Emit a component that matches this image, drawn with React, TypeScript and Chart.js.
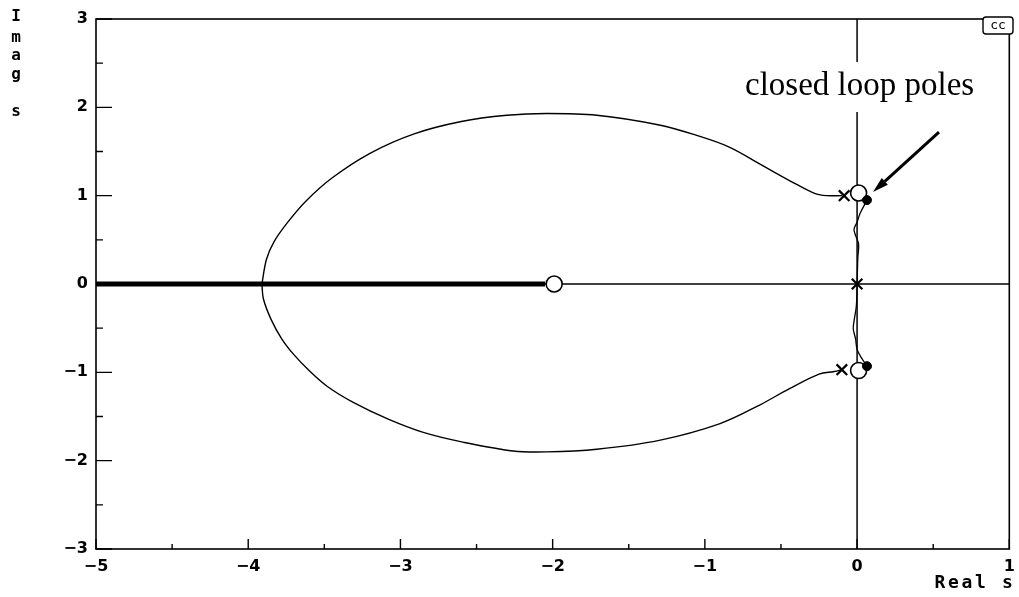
import React, { useEffect, useRef } from "react";
import { Chart, registerables } from "chart.js";

Chart.register(...registerables);

type Pt = [number, number];

// Root locus branches (real part, imaginary part)
const upperBranch: Pt[] = [
  [-0.1, 1.0], [-0.2, 1.0], [-0.27, 1.02], [-0.4, 1.13], [-0.62, 1.34],
  [-0.84, 1.55], [-1.05, 1.68], [-1.3, 1.8], [-1.71, 1.91], [-2.04, 1.93],
  [-2.3, 1.91], [-2.6, 1.84], [-2.91, 1.7], [-3.2, 1.48], [-3.45, 1.2],
  [-3.62, 0.94], [-3.74, 0.7], [-3.83, 0.48], [-3.88, 0.28], [-3.91, 0.0],
];
const lowerBranch: Pt[] = [
  [-0.1, -0.97], [-0.15, -0.99], [-0.25, -1.02], [-0.45, -1.19], [-0.64, -1.37],
  [-0.9, -1.58], [-1.3, -1.77], [-1.71, -1.87], [-2.04, -1.9], [-2.26, -1.89],
  [-2.59, -1.79], [-2.85, -1.68], [-3.08, -1.53], [-3.31, -1.34], [-3.48, -1.16],
  [-3.6, -0.98], [-3.7, -0.8], [-3.78, -0.62], [-3.85, -0.4], [-3.9, -0.17],
  [-3.91, 0.0],
];
const upperAxisBranch: Pt[] = [
  [0, 0], [0.005, 0.3], [0.01, 0.45], [-0.01, 0.55], [-0.02, 0.62],
  [0.0, 0.7], [0.02, 0.8], [0.065, 0.95],
];
const lowerAxisBranch: Pt[] = [
  [0, 0], [-0.005, -0.25], [-0.02, -0.42], [-0.025, -0.51], [-0.01, -0.62],
  [0.0, -0.74], [0.03, -0.84], [0.065, -0.93],
];
const realAxisLocus: Pt[] = [[-5, 0], [-2.05, 0]];
const imagAxisLine: Pt[] = [[0, -3], [0, 3]];
const realAxisLine: Pt[] = [[-5, 0], [1, 0]];

const openLoopPoles: Pt[] = [[-0.085, 1.0], [-0.1, -0.97], [0, 0]];
const openLoopZeros: Pt[] = [[0.01, 1.03], [0.01, -0.98], [-1.99, 0]];
const closedLoopPoles: Pt[] = [[0.065, 0.95], [0.065, -0.93]];

const xTickValues = [-5, -4, -3, -2, -1, 0, 1];
const yTickValues = [-3, -2, -1, 0, 1, 2, 3];
const xMinorValues = [-4.5, -3.5, -2.5, -1.5, -0.5, 0.5];
const yMinorValues = [-2.5, -1.5, -0.5, 0.5, 1.5, 2.5];

const toXY = (pts: Pt[]) => pts.map(([x, y]) => ({ x, y }));
const fmt = (v: number) => (v < 0 ? "\u2212" + Math.abs(v) : String(v));

const lineSet = (pts: Pt[], width: number) => ({
  data: toXY(pts),
  showLine: true,
  borderColor: "#000",
  borderWidth: width,
  pointRadius: 0,
  tension: 0.35,
  fill: false,
});

const framePlugin = {
  id: "frameAndTicks",
  beforeDatasetsDraw(chart: any) {
    const { ctx, chartArea: a, scales } = chart;
    ctx.save();
    ctx.strokeStyle = "#000";
    ctx.lineWidth = 1.6;
    ctx.strokeRect(a.left, a.top, a.right - a.left, a.bottom - a.top);
    ctx.lineWidth = 1.4;
    ctx.beginPath();
    yTickValues.forEach((v) => {
      const py = scales.y.getPixelForValue(v);
      ctx.moveTo(a.left, py);
      ctx.lineTo(a.left + 16, py);
    });
    yMinorValues.forEach((v) => {
      const py = scales.y.getPixelForValue(v);
      ctx.moveTo(a.left, py);
      ctx.lineTo(a.left + 7, py);
    });
    xTickValues.forEach((v) => {
      const px = scales.x.getPixelForValue(v);
      ctx.moveTo(px, a.bottom);
      ctx.lineTo(px, a.bottom - 10);
    });
    xMinorValues.forEach((v) => {
      const px = scales.x.getPixelForValue(v);
      ctx.moveTo(px, a.bottom);
      ctx.lineTo(px, a.bottom - 5);
    });
    ctx.stroke();
    ctx.restore();
  },
  afterDraw(chart: any) {
    const { ctx, scales } = chart;
    ctx.save();
    ctx.fillStyle = "#000";

    // vertical axis title, one letter per line
    ctx.font = 'bold 16px "DejaVu Sans Mono"';
    ctx.textAlign = "center";
    ctx.textBaseline = "middle";
    const letters: [string, number][] = [["I", 17], ["m", 38], ["a", 56], ["g", 75], ["s", 112]];
    letters.forEach(([c, y]) => ctx.fillText(c, 16, y));

    // horizontal axis title
    ctx.font = 'bold 18px "DejaVu Sans Mono"';
    ctx.textBaseline = "alphabetic";
    const title = "Real s";
    for (let i = 0; i < title.length; i++) {
      ctx.fillText(title[i], 940 + i * 13.5, 588);
    }

    // corner badge
    ctx.beginPath();
    (ctx as any).roundRect(983, 17, 30, 17, 3);
    ctx.fillStyle = "#fff";
    ctx.fill();
    ctx.strokeStyle = "#000";
    ctx.lineWidth = 1.4;
    ctx.stroke();
    ctx.fillStyle = "#000";
    ctx.font = '13px "DejaVu Sans Mono"';
    ctx.textBaseline = "middle";
    ctx.fillText("cc", 998, 26);

    // annotation
    ctx.fillStyle = "#fff";
    ctx.fillRect(740, 62, 240, 50);
    ctx.fillStyle = "#000";
    ctx.font = '33px "Liberation Serif"';
    ctx.textAlign = "left";
    ctx.textBaseline = "alphabetic";
    ctx.fillText("closed loop poles", 745, 95);

    // arrow towards the upper closed loop pole
    const [px, py] = closedLoopPoles[0];
    const tipX = scales.x.getPixelForValue(px) + 6;
    const tipY = scales.y.getPixelForValue(py) - 8;
    const tailX = tipX + 66;
    const tailY = tipY - 60;
    const ang = Math.atan2(tipY - tailY, tipX - tailX);
    const headLen = 16;
    const headW = 4.5;
    const bx = tipX - headLen * Math.cos(ang);
    const by = tipY - headLen * Math.sin(ang);
    ctx.strokeStyle = "#000";
    ctx.lineWidth = 3;
    ctx.beginPath();
    ctx.moveTo(tailX, tailY);
    ctx.lineTo(bx, by);
    ctx.stroke();
    ctx.beginPath();
    ctx.moveTo(tipX, tipY);
    ctx.lineTo(bx + headW * Math.sin(ang), by - headW * Math.cos(ang));
    ctx.lineTo(bx - headW * Math.sin(ang), by + headW * Math.cos(ang));
    ctx.closePath();
    ctx.fill();
    ctx.restore();
  },
};

export default function App() {
  const ref = useRef<HTMLCanvasElement | null>(null);

  useEffect(() => {
    if (!ref.current) return;
    const chart = new Chart(ref.current, {
      type: "scatter",
      data: {
        datasets: [
          {
            data: toXY(closedLoopPoles),
            pointStyle: "circle",
            pointRadius: 4.5,
            backgroundColor: "#000",
            borderColor: "#000",
            borderWidth: 1,
          },
          {
            data: toXY(openLoopZeros),
            pointStyle: "circle",
            pointRadius: 8,
            backgroundColor: "#fff",
            borderColor: "#000",
            borderWidth: 1.6,
          },
          {
            data: toXY(openLoopPoles),
            pointStyle: "crossRot",
            pointRadius: 7.5,
            borderColor: "#000",
            borderWidth: 2.2,
          },
          lineSet(upperAxisBranch, 1.3),
          lineSet(lowerAxisBranch, 1.3),
          lineSet(upperBranch, 1.4),
          lineSet(lowerBranch, 1.4),
          { ...lineSet(realAxisLocus, 5), tension: 0 },
          { ...lineSet(imagAxisLine, 1.5), tension: 0 },
          { ...lineSet(realAxisLine, 1.5), tension: 0 },
        ] as any,
      },
      options: {
        animation: false,
        responsive: false,
        events: [],
        layout: { padding: { top: 19, right: 8, left: 0, bottom: 0 } },
        plugins: { legend: { display: false }, tooltip: { enabled: false } },
        scales: {
          x: {
            type: "linear",
            min: -5,
            max: 1,
            afterFit: (s: any) => {
              s.height = 48;
              s.paddingLeft = 0;
              s.paddingRight = 0;
            },
            afterBuildTicks: (s: any) => { s.ticks = xTickValues.map((value) => ({ value })); },
            grid: { display: false, drawTicks: false },
            border: { display: false },
            ticks: {
              padding: 8,
              color: "#000",
              font: { family: "DejaVu Sans", weight: "bold", size: 16 },
              callback: (v: any) => fmt(Number(v)),
              maxRotation: 0,
            },
          },
          y: {
            type: "linear",
            min: -3,
            max: 3,
            afterFit: (s: any) => {
              s.width = 96;
              s.paddingTop = 0;
              s.paddingBottom = 0;
            },
            afterBuildTicks: (s: any) => { s.ticks = yTickValues.map((value) => ({ value })); },
            grid: { display: false, drawTicks: false },
            border: { display: false },
            ticks: {
              padding: 8,
              color: "#000",
              font: { family: "DejaVu Sans", weight: "bold", size: 16 },
              callback: (v: any) => fmt(Number(v)),
            },
          },
        },
      } as any,
      plugins: [framePlugin],
    });
    return () => chart.destroy();
  }, []);

  return (
    <canvas
      ref={ref}
      width={1019}
      height={597}
      style={{ position: "absolute", left: 0, top: 0, background: "#fff" }}
    />
  );
}
